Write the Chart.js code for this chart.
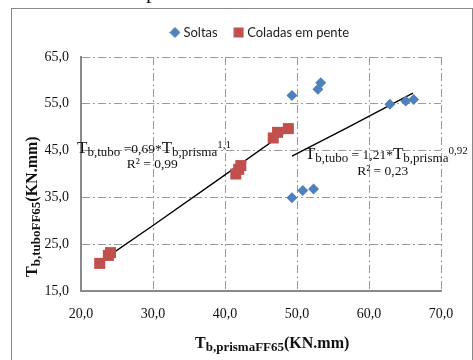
<!DOCTYPE html>
<html>
<head>
<meta charset="utf-8">
<script src="https://cdn.jsdelivr.net/npm/chart.js@4.4.0/dist/chart.umd.min.js"></script>
<style>
    html, body { margin: 0; padding: 0; background: #fff; }
    #wrap { position: relative; width: 473px; height: 360px; }
    #frame { position: absolute; left: 11px; top: 8px; width: 462px; height: 360px; border: 1px solid #888; border-bottom: none; box-sizing: border-box; pointer-events: none; }
</style>
</head>
<body>
<div id="wrap">
    <canvas id="chart" width="473" height="360"></canvas>
    <div id="frame"></div>
</div>
<script>
// Values
const seriesNames = ['Soltas', 'Coladas em pente'];
const soltasX = [49.3, 52.9, 53.3, 62.9, 65.1, 66.2, 49.3, 50.8, 52.3];
const soltasY = [56.8, 58.1, 59.5, 54.9, 55.6, 55.9, 34.9, 36.5, 36.8];
const coladasX = [22.6, 23.8, 24.1, 41.5, 41.9, 42.2, 46.7, 47.3, 48.8];
const coladasY = [20.9, 22.6, 23.2, 40.0, 41.0, 41.8, 47.7, 48.9, 49.7];

// trend lines as drawn in the picture
const trend1X = [22.8, 30.0, 40.0, 48.8];
const trend1Y = [21.4, 29.0, 39.8, 49.4];
const trend2X = [49.3, 57.0, 66.1];
const trend2Y = [43.8, 49.9, 57.3];

const xTicks = [20, 30, 40, 50, 60, 70];
const yTicks = [15, 25, 35, 45, 55, 65];

// text pieces: [text, kind]
const xTitle = [['T', 'main'], ['b,prismaFF65', 'sub'], ['(KN.mm)', 'main']];
const yTitle = [['T', 'main'], ['b,tuboFF65', 'sub'], ['(KN.mm)', 'main']];
const eq1 = [['T', 'big'], ['b,tubo', 'sub'], [' =0,69*', 'norm'], ['T', 'big'], ['b,prisma', 'sub'], ['1,1', 'sup']];
const eq2 = [['T', 'big'], ['b,tubo', 'sub'], [' = 1,21*', 'norm'], ['T', 'big'], ['b,prisma', 'sub'], ['0,92', 'sup']];
const r2Texts = ['R² = 0,99', 'R² = 0,23'];

const toPoints = (xs, ys) => xs.map((v, i) => ({x: v, y: ys[i]}));
const fmt = v => v.toFixed(1).replace('.', ',');
const SERIF = '"Liberation Serif", "Times New Roman", serif';

function makeIcon(kind, color) {
    const c = document.createElement('canvas');
    c.width = 11; c.height = 11;
    const g = c.getContext('2d');
    g.fillStyle = color;
    if (kind == 'diamond') {
        g.beginPath();
        g.moveTo(5.5, 0); g.lineTo(11, 5.5); g.lineTo(5.5, 11); g.lineTo(0, 5.5);
        g.closePath();
        g.fill();
    } else {
        g.fillRect(0.5, 0.5, 10, 10);
    }
    return c;
}
const legendIcons = [makeIcon('diamond', '#4F81BD'), makeIcon('square', '#C0504D')];

const eqStyles = {
    big: {font: '17px ' + SERIF, dy: 0},
    norm: {font: '13.5px ' + SERIF, dy: 0},
    sub: {font: '13px ' + SERIF, dy: 3},
    sup: {font: '11px ' + SERIF, dy: -5}
};
const titleStyles = {
    main: {font: 'bold 16px ' + SERIF, dy: 0},
    sub: {font: 'bold 13px ' + SERIF, dy: 3}
};

function drawRun(ctx, x, y, parts, styles) {
    for (const [t, k] of parts) {
        ctx.font = styles[k].font;
        ctx.fillText(t, x, y + styles[k].dy);
        x += ctx.measureText(t).width;
    }
}

// extra room under the legend
const legendGap = {
    id: 'legendGap',
    beforeInit(chart) {
        const origFit = chart.legend.fit;
        chart.legend.fit = function () {
            origFit.bind(chart.legend)();
            this.height += 8;
        };
    }
};

const textPlugin = {
    id: 'texts',
    afterDraw(chart) {
        const {ctx, chartArea: a, scales} = chart;
        const sx = scales.x, sy = scales.y;
        ctx.save();
        ctx.fillStyle = '#111';
        ctx.textAlign = 'left';
        ctx.textBaseline = 'alphabetic';

        // bit of text from the page above the chart
        ctx.font = '22px ' + SERIF;
        ctx.fillText('p', 146, -2);

        // axis titles
        drawRun(ctx, a.left + 114, a.bottom + 57, xTitle, titleStyles);
        ctx.save();
        ctx.translate(a.left - 44, a.bottom - 14);
        ctx.rotate(-Math.PI / 2);
        drawRun(ctx, 0, 0, yTitle, titleStyles);
        ctx.restore();

        // trend line equations
        drawRun(ctx, sx.getPixelForValue(19.45), sy.getPixelForValue(44.4), eq1, eqStyles);
        drawRun(ctx, sx.getPixelForValue(51.1), sy.getPixelForValue(43.2), eq2, eqStyles);
        ctx.font = '13.5px ' + SERIF;
        ctx.textAlign = 'center';
        ctx.fillText(r2Texts[0], sx.getPixelForValue(29.9), sy.getPixelForValue(41.2));
        ctx.fillText(r2Texts[1], sx.getPixelForValue(61.9), sy.getPixelForValue(39.7));
        ctx.restore();
    }
};

const gridStyle = {color: '#9a9a9a', lineWidth: 1, drawTicks: false};
const axisBorder = {display: true, color: '#8a8a8a', width: 2, dash: [8, 3, 2, 3]};
const tickFont = {family: SERIF, size: 14};

new Chart(document.getElementById('chart'), {
    type: 'scatter',
    data: {
        datasets: [{
            label: seriesNames[0],
            data: toPoints(soltasX, soltasY),
            pointStyle: 'rectRot',
            pointRadius: 5.5,
            pointHoverRadius: 5.5,
            backgroundColor: '#4F81BD',
            borderWidth: 0
        }, {
            label: seriesNames[1],
            data: toPoints(coladasX, coladasY),
            pointStyle: 'rect',
            pointRadius: 7.8,
            pointHoverRadius: 7.8,
            backgroundColor: '#C0504D',
            borderWidth: 0
        }, {
            label: 'trend1',
            data: toPoints(trend1X, trend1Y),
            showLine: true,
            borderColor: '#000',
            borderWidth: 1.4,
            pointRadius: 0,
            tension: 0
        }, {
            label: 'trend2',
            data: toPoints(trend2X, trend2Y),
            showLine: true,
            borderColor: '#000',
            borderWidth: 1.4,
            pointRadius: 0,
            tension: 0
        }]
    },
    options: {
        responsive: false,
        animation: false,
        events: [],
        layout: {padding: {left: 13, right: 32, top: 7, bottom: 0}},
        plugins: {
            tooltip: {enabled: false},
            legend: {
                display: true,
                position: 'top',
                fullSize: false,
                labels: {
                    usePointStyle: true,
                    boxWidth: 4,
                    boxHeight: 10,
                    padding: 19,
                    color: '#222',
                    font: {family: 'Lato, "Open Sans", sans-serif', size: 13},
                    generateLabels(chart) {
                        const items = Chart.defaults.plugins.legend.labels.generateLabels(chart);
                        return items.filter(it => it.datasetIndex < 2)
                            .map(it => Object.assign(it, {pointStyle: legendIcons[it.datasetIndex]}));
                    }
                }
            }
        },
        scales: {
            x: {
                type: 'linear',
                min: xTicks[0],
                max: xTicks[xTicks.length - 1],
                afterBuildTicks: s => { s.ticks = xTicks.map(v => ({value: v})); },
                afterFit: s => { s.height = 69; },
                grid: gridStyle,
                border: axisBorder,
                ticks: {font: tickFont, color: '#111', padding: 15, callback: v => fmt(v), maxRotation: 0}
            },
            y: {
                type: 'linear',
                min: yTicks[0],
                max: yTicks[yTicks.length - 1],
                afterBuildTicks: s => { s.ticks = yTicks.map(v => ({value: v})); },
                afterFit: s => { s.width = 68; },
                grid: gridStyle,
                border: axisBorder,
                ticks: {font: tickFont, color: '#111', padding: 12, callback: v => fmt(v)}
            }
        }
    },
    plugins: [textPlugin, legendGap]
});
</script>
</body>
</html>
